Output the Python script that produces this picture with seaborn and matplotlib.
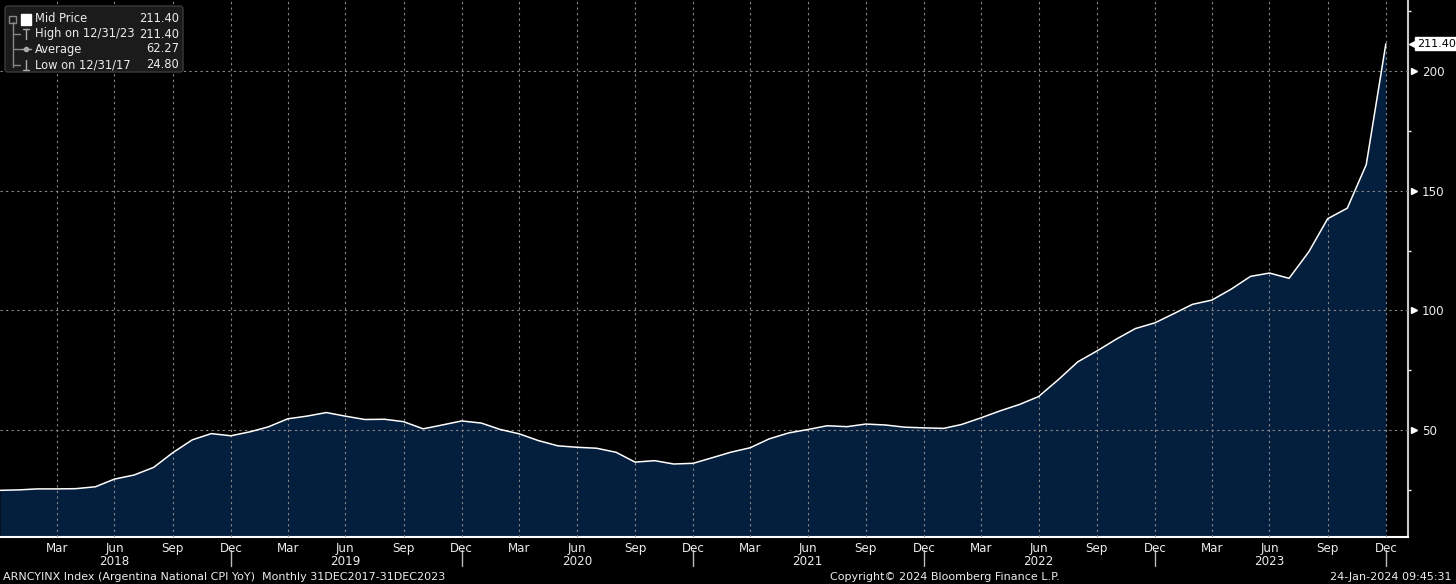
import matplotlib
matplotlib.use("Agg")
import matplotlib.pyplot as plt
import matplotlib.transforms as mtransforms
from matplotlib.patches import FancyBboxPatch
import seaborn as sns
import pandas as pd
import numpy as np

# ---- data ----
cpi_yoy = [
    24.8,
    25.0, 25.4, 25.4, 25.5, 26.3, 29.5, 31.2, 34.4, 40.5, 45.9, 48.5, 47.6,
    49.3, 51.3, 54.7, 55.8, 57.3, 55.8, 54.4, 54.5, 53.5, 50.5, 52.1, 53.8,
    52.9, 50.3, 48.4, 45.6, 43.4, 42.8, 42.4, 40.7, 36.6, 37.2, 35.8, 36.1,
    38.5, 40.7, 42.6, 46.3, 48.8, 50.2, 51.8, 51.4, 52.5, 52.1, 51.2, 50.9,
    50.7, 52.3, 55.1, 58.0, 60.7, 64.0, 71.0, 78.5, 83.0, 88.0, 92.4, 94.8,
    98.8, 102.5, 104.3, 108.8, 114.2, 115.6, 113.4, 124.4, 138.3, 142.7, 160.9, 211.4,
]
dates = pd.date_range("2017-12-31", periods=len(cpi_yoy), freq="ME")
years = ["2018", "2019", "2020", "2021", "2022", "2023"]
month_labels = ["Mar", "Jun", "Sep", "Dec"]
y_ticks = [50, 100, 150, 200]
legend_rows = [("Mid Price", "211.40"), ("High on 12/31/23", "211.40"),
               ("Average", "62.27"), ("Low on 12/31/17", "24.80")]
footer_left = "ARNCYINX Index (Argentina National CPI YoY)  Monthly 31DEC2017-31DEC2023"
footer_mid = "Copyright\u00a9 2024 Bloomberg Finance L.P."
footer_right = "24-Jan-2024 09:45:31"

df = pd.DataFrame({"date": dates, "value": cpi_yoy})

sns.set_style("dark")
plt.rcParams["font.family"] = ["DejaVu Sans"]
txt_col = "#ececec"
fill_col = "#041e3d"
FS = 8.0
FS_AX = 8.6
FS_LEG = 8.3

fig = plt.figure(figsize=(14.56, 5.84), dpi=100, facecolor="black")
ax = fig.add_axes([0.0, 1 - 537 / 584, 1408 / 1456, 537 / 584])
ax.set_facecolor("black")

ymin, ymax = 5.3, 229.7
x0 = pd.Timestamp("2017-12-31")
x1 = pd.Timestamp("2024-02-04")
ax.fill_between(df["date"], ymin, df["value"], color=fill_col, lw=0, zorder=1)
sns.lineplot(data=df, x="date", y="value", ax=ax, color="white", lw=1.1, zorder=3)
ax.set_xlim(x0, x1)
ax.set_ylim(ymin, ymax)
ax.set_xlabel("")
ax.set_ylabel("")

# x ticks
major = pd.date_range("2018-03-31", "2023-12-31", freq="3ME")
minor = pd.date_range("2018-01-31", "2024-01-31", freq="ME")
ax.set_xticks(major)
ax.set_xticklabels([month_labels[i % 4] for i in range(len(major))])
ax.set_xticks(minor, minor=True)
ax.tick_params(axis="x", which="major", colors=txt_col, length=3, width=1,
               labelsize=FS_AX, pad=0.5, direction="out")
ax.tick_params(axis="x", which="minor", colors=txt_col, length=3, width=1, direction="out")

# y axis on right
ax.yaxis.tick_right()
ax.set_yticks(y_ticks)
ax.set_yticklabels([str(v) for v in y_ticks])
ax.set_yticks([25, 75, 125, 175, 225], minor=True)
ax.tick_params(axis="y", which="major", colors=txt_col, length=0, labelsize=FS_AX, pad=10)
ax.tick_params(axis="y", which="minor", colors=txt_col, length=2.5, width=1, direction="out")

# grid
ax.grid(True, which="major", axis="both", color="#8a8a8a", ls=(0, (2, 3)), lw=0.8)
ax.set_axisbelow(False)
for l in ax.get_xgridlines() + ax.get_ygridlines():
    l.set_zorder(2)

for s in ["top", "left"]:
    ax.spines[s].set_visible(False)
ax.spines["right"].set_color("#c8c8c8")
ax.spines["right"].set_linewidth(1.5)
ax.spines["bottom"].set_color("white")
ax.spines["bottom"].set_linewidth(1.5)

# triangle tick markers on the right
tr = mtransforms.blended_transform_factory(ax.transAxes, ax.transData)
ax.plot([1.0045] * len(y_ticks), y_ticks, marker=">", ms=5, color="white",
        ls="none", transform=tr, clip_on=False)

# year labels and year separators
trx = mtransforms.blended_transform_factory(ax.transData, ax.transAxes)
for yr in years:
    ax.text(pd.Timestamp(f"{yr}-06-30"), -0.033, yr, transform=trx, ha="center",
            va="top", color=txt_col, fontsize=FS_AX)
    d = pd.Timestamp(f"{yr}-12-31")
    ax.plot([d, d], [-0.024, -0.054], transform=trx, color="#bbbbbb", lw=1, clip_on=False)

# last value tag
ax.plot([1.0042], [cpi_yoy[-1]], marker="<", ms=7, color="white", transform=tr, clip_on=False)
ax.text(1.0062, cpi_yoy[-1], f"{cpi_yoy[-1]:.2f}", transform=tr, ha="left", va="center",
        fontsize=8.0, color="black",
        bbox=dict(boxstyle="square,pad=0.15", fc="white", ec="white"))

# legend box
leg = FancyBboxPatch((5, 584 - 72), 178, 66, boxstyle="round,pad=0,rounding_size=3",
                     transform=None, fc="#1b1b1b", ec="#3a3a3a", lw=1, zorder=10)
fig.patches.append(leg)
rows_y = [19, 34, 49, 65]
for (lab, val), yy in zip(legend_rows, rows_y):
    fig.text(35 / 1456, 1 - yy / 584, lab, color=txt_col, fontsize=FS_LEG, va="center",
             ha="left", zorder=11)
    fig.text(179 / 1456, 1 - yy / 584, val, color=txt_col, fontsize=FS_LEG, va="center",
             ha="right", zorder=11)
# legend icons
fig.patches.append(FancyBboxPatch((21, 584 - 25), 10, 11, boxstyle="square,pad=0",
                                  transform=None, fc="white", ec="white", zorder=11))
fig.lines.append(plt.Line2D([13, 13], [584 - 22, 584 - 67], transform=None,
                            color="#888888", lw=1, zorder=11))
fig.patches.append(FancyBboxPatch((9, 584 - 23), 7, 7, boxstyle="square,pad=0",
                                  transform=None, fc="none", ec="#888888", lw=1, zorder=11))
for yy in [34, 49, 65]:
    fig.lines.append(plt.Line2D([13, 20], [584 - yy, 584 - yy], transform=None,
                                color="#888888", lw=1, zorder=11))
fig.lines.append(plt.Line2D([26, 26], [584 - 29, 584 - 39], transform=None, color="#aaaaaa", lw=1, zorder=11))
fig.lines.append(plt.Line2D([23, 29], [584 - 29, 584 - 29], transform=None, color="#aaaaaa", lw=1, zorder=11))
fig.lines.append(plt.Line2D([21, 31], [584 - 49, 584 - 49], transform=None, color="#aaaaaa", lw=1, zorder=11))
fig.lines.append(plt.Line2D([26], [584 - 49], transform=None, color="#aaaaaa", marker="o", ms=3, zorder=11))
fig.lines.append(plt.Line2D([26, 26], [584 - 60, 584 - 70], transform=None, color="#aaaaaa", lw=1, zorder=11))
fig.lines.append(plt.Line2D([23, 29], [584 - 70, 584 - 70], transform=None, color="#aaaaaa", lw=1, zorder=11))

# footer
fig.text(3 / 1456, 1 - 577 / 584, footer_left, color=txt_col, fontsize=FS, va="center", ha="left")
fig.text(945 / 1456, 1 - 577 / 584, footer_mid, color=txt_col, fontsize=FS, va="center", ha="center")
fig.text(1452 / 1456, 1 - 577 / 584, footer_right, color=txt_col, fontsize=FS, va="center", ha="right")

fig.savefig("out.png", dpi=100, facecolor="black")
